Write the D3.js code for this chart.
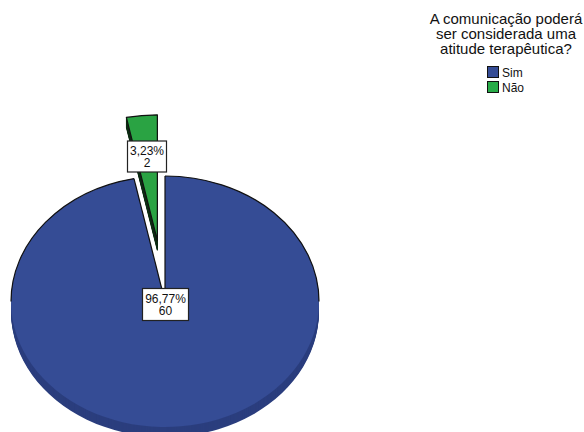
<!DOCTYPE html>
<html><head><meta charset="utf-8">
<script src="https://cdn.jsdelivr.net/npm/d3@7/dist/d3.min.js"></script>
<style>html,body{margin:0;padding:0;background:#fff;overflow:hidden}svg{display:block;font-family:"Liberation Sans",Arial,sans-serif}</style>
</head><body><svg id="c" width="584" height="432"></svg>
<script>
const categories = ["Sim", "Não"];
const counts = [60, 2];
const percentLabels = ["96,77%", "3,23%"];
const titleLines = ["A comunicação poderá", "ser considerada uma", "atitude terapêutica?"];
const colors = ["#354c95", "#2aa343"];
const legendColors = ["#354c95", "#28ac48"];
const sideColors = ["#2b3e7e", "#14501f"];

const svg = d3.select("#c");
const cx = 165, cy = 301.5, rx = 154, ry = 125.5, depth = 10, explodeFrac = 0.49;
const yk = ry / rx;

const pie = d3.pie().sort(null).value(d => d)(counts);
const arc = d3.arc().innerRadius(0).outerRadius(rx);
const rim = d3.arc().innerRadius(rx).outerRadius(rx);
const offset = d => {
  if (d.index === 0) return [0, 0];
  const m = (d.startAngle + d.endAngle) / 2;
  return [Math.sin(m) * rx * explodeFrac, -Math.cos(m) * ry * explodeFrac];
};
const g = svg.append("g");
const tf = (d, dy) => { const o = offset(d); return `translate(${cx + o[0]},${cy + o[1] + dy}) scale(1,${yk})`; };

// extruded sides, stacked from the bottom up
const layers = d3.range(depth, 0, -1);
pie.forEach(d => {
  g.selectAll(null).data(layers).join("path")
    .attr("d", arc(d)).attr("transform", dy => tf(d, dy))
    .attr("fill", sideColors[d.index]).attr("stroke", d.index === 1 ? "#0c2a12" : "none")
    .attr("stroke-width", 1).attr("vector-effect", "non-scaling-stroke");
});
// top faces
g.selectAll(".top").data(pie).join("path").attr("class", "top")
  .attr("d", arc).attr("transform", d => tf(d, 0))
  .attr("fill", d => colors[d.index])
  .attr("stroke", d => d.index === 1 ? "#111" : "none").attr("stroke-width", 1.2)
  .attr("vector-effect", "non-scaling-stroke").attr("stroke-linejoin", "round");

// main slice outline: cut edges and the upper rim only, the lower rim has no outline
const main = pie[0];
const upperRims = [
  {startAngle: main.startAngle, endAngle: Math.PI / 2},
  {startAngle: 3 * Math.PI / 2, endAngle: main.endAngle}
];
g.selectAll(".rim").data(upperRims).join("path").attr("class", "rim")
  .attr("d", d => rim(d)).attr("transform", tf(main, 0)).attr("fill", "none")
  .attr("stroke", "#111").attr("stroke-width", 1.2).attr("vector-effect", "non-scaling-stroke");
const spoke = d3.lineRadial().angle(d => d[0]).radius(d => d[1]);
g.selectAll(".cut").data([main.startAngle, main.endAngle]).join("path").attr("class", "cut")
  .attr("d", a => spoke([[a, 0], [a, rx]])).attr("transform", tf(main, 0)).attr("fill", "none")
  .attr("stroke", "#111").attr("stroke-width", 1.2).attr("vector-effect", "non-scaling-stroke");

// data labels
const boxes = [
  {i: 0, x: 142.5, y: 288.5, w: 46, h: 32},
  {i: 1, x: 127.5, y: 141, w: 39, h: 31}
];
const lab = svg.selectAll(".lab").data(boxes).join("g").attr("class", "lab");
lab.append("rect").attr("x", d => d.x).attr("y", d => d.y).attr("width", d => d.w).attr("height", d => d.h)
  .attr("fill", "#fff").attr("stroke", "#222").attr("stroke-width", 1.2);
const labT = lab.append("text").attr("text-anchor", "middle").attr("font-size", 12).attr("fill", "#111");
labT.append("tspan").attr("x", d => d.x + d.w / 2).attr("y", d => d.y + 14).text(d => percentLabels[d.i]);
labT.append("tspan").attr("x", d => d.x + d.w / 2).attr("y", d => d.y + 26).text(d => counts[d.i]);

// title
svg.append("text").attr("text-anchor", "middle").attr("font-size", 15).attr("fill", "#111")
  .selectAll("tspan").data(titleLines).join("tspan")
  .attr("x", 506).attr("y", (d, i) => 24 + i * 15).text(d => d);

// legend
const yLeg = d3.scalePoint().domain(categories).range([72, 87]);
const leg = svg.append("g").selectAll("g").data(categories).join("g");
leg.append("rect").attr("x", 487.5).attr("y", d => yLeg(d) - 5.5).attr("width", 11).attr("height", 11)
  .attr("fill", (d, i) => legendColors[i]).attr("stroke", "#111").attr("stroke-width", 1);
leg.append("text").attr("x", 502).attr("y", d => yLeg(d) + 4.5).attr("font-size", 12).attr("fill", "#111").text(d => d);
</script></body></html>
